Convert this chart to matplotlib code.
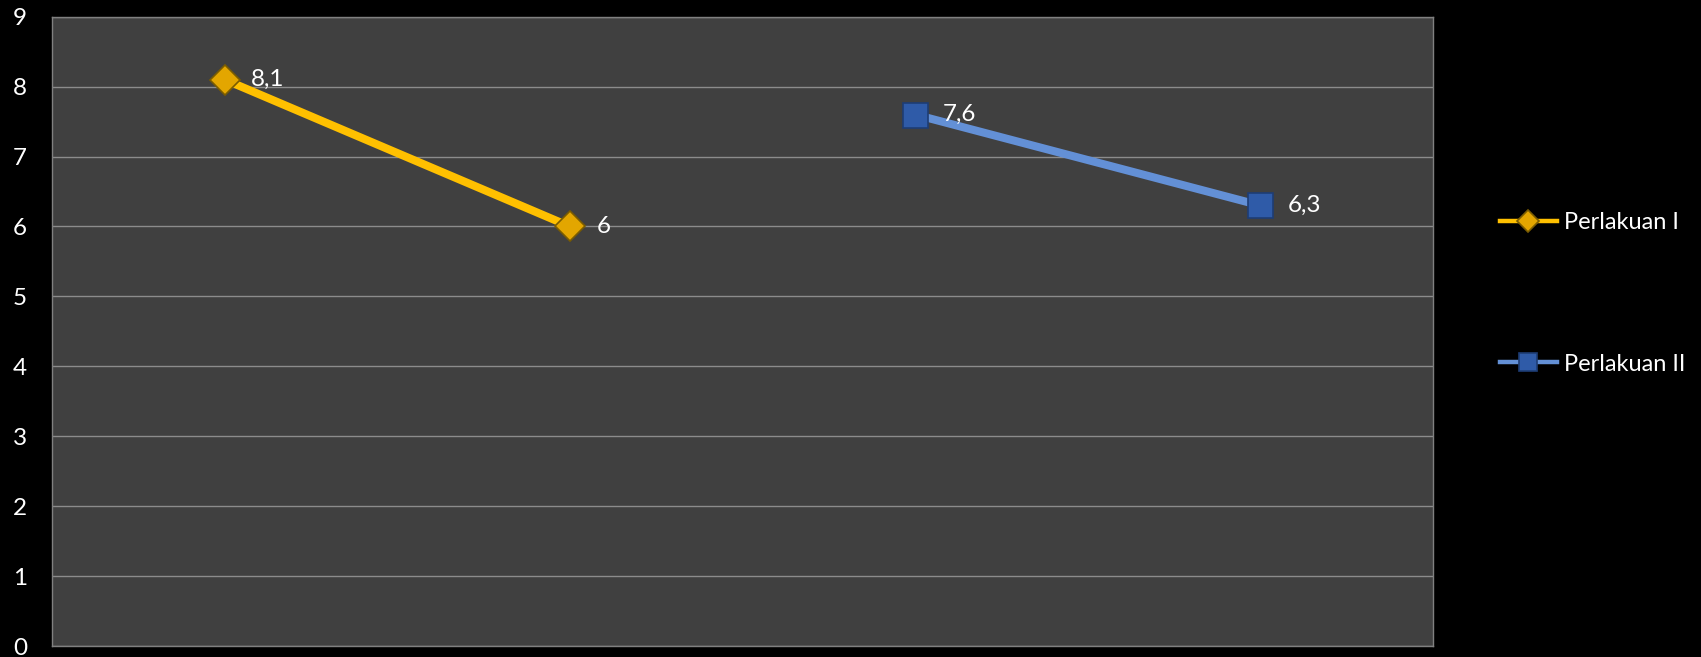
import numpy as np
import matplotlib.pyplot as plt

plt.rcParams['font.family'] = ['Lato', 'DejaVu Sans']

kategori = [1, 2, 3, 4]
perlakuan_1 = [8.1, 6.0, np.nan, np.nan]
perlakuan_2 = [np.nan, np.nan, 7.6, 6.3]
label_1 = ["8,1", "6", "", ""]
label_2 = ["", "", "7,6", "6,3"]

fig = plt.figure(figsize=(17.01, 6.57), dpi=100, facecolor="black")
ax = fig.add_axes([0.0306, 0.0167, 0.8119, 0.9579])
ax.set_facecolor("#404040")

ax.plot(kategori, perlakuan_1, color="#FFC000", linewidth=5.8, marker="D",
        markersize=15, markerfacecolor="#E3A600", markeredgecolor="#7A5C00",
        markeredgewidth=1.2, label="Perlakuan I", zorder=3)
ax.plot(kategori, perlakuan_2, color="#6390D6", linewidth=5.8, marker="s",
        markersize=18, markerfacecolor="#2F5BA8", markeredgecolor="#1E3D75",
        markeredgewidth=1.2, label="Perlakuan II", zorder=3)

for x, y, t in zip(kategori, perlakuan_1, label_1):
    if t:
        ax.annotate(t, (x, y), xytext=(19, 0), textcoords="offset points",
                    ha="left", va="center", color="white", fontsize=17.5)
for x, y, t in zip(kategori, perlakuan_2, label_2):
    if t:
        ax.annotate(t, (x, y), xytext=(20, 0), textcoords="offset points",
                    ha="left", va="center", color="white", fontsize=17.5)

ax.set_xlim(0.5, 4.5)
ax.set_ylim(0, 9)
ax.set_yticks(range(0, 10))
ax.set_xticks([])
ax.tick_params(axis="y", length=0, pad=18, labelsize=17.5, labelcolor="white")
ax.grid(axis="y", color="#8C8C8C", linewidth=1)
ax.set_axisbelow(True)
for s in ax.spines.values():
    s.set_color("#808080")
    s.set_linewidth(1)

leg = fig.legend(loc="center left", bbox_to_anchor=(0.8818, 0.5533), frameon=False,
                 fontsize=17, labelcolor="white", handlelength=2.4, handletextpad=0.3,
                 labelspacing=5.1, borderpad=0, borderaxespad=0, markerscale=0.75)
for ln in leg.get_lines():
    ln.set_linewidth(3.2)

plt.savefig("out.png", dpi=100, facecolor="black")
